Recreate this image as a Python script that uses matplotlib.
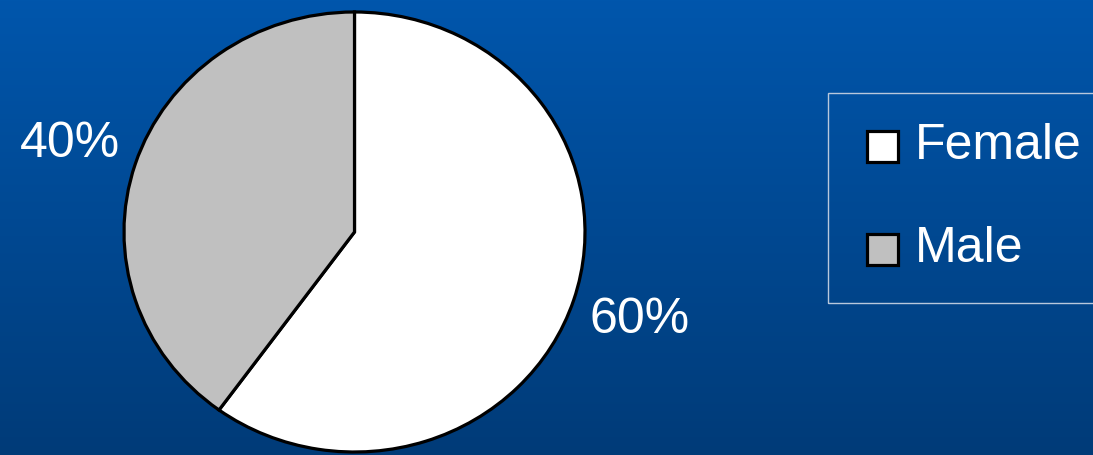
import numpy as np
import matplotlib
matplotlib.use("Agg")
import matplotlib.pyplot as plt
from matplotlib.patches import Rectangle

categories = ["Female", "Male"]
shares = [60, 40]
colors = ["#FFFFFF", "#C0C0C0"]

W, H = 1093, 455
fig = plt.figure(figsize=(W / 100, H / 100), dpi=100)

# gradient background
bg = fig.add_axes([0, 0, 1, 1], zorder=0)
grad = np.linspace(0, 1, 256).reshape(-1, 1)
top = np.array([0, 86, 172]) / 255
bot = np.array([0, 59, 120]) / 255
img = top[None, None, :] * (1 - grad[..., None]) + bot[None, None, :] * grad[..., None]
bg.imshow(img, aspect="auto", extent=[0, 1, 0, 1])
bg.set_axis_off()

def fx(px):
    return px / W

def fy(py):
    return 1 - py / H

# pie axes (slightly elliptical like the reference)
cx, cy, rx, ry = 354.5, 232, 230.5, 220
ax = fig.add_axes([fx(cx - rx), fy(cy + ry), 2 * rx / W, 2 * ry / H], zorder=1)
wedges, _, autotexts = ax.pie(
    shares, colors=colors, startangle=90, counterclock=False,
    autopct="%d%%", pctdistance=1.3,
    wedgeprops=dict(edgecolor="black", linewidth=2.3),
    textprops=dict(color="white", fontsize=36, family="Liberation Sans"),
)
ax.set_aspect("auto")
ax.set_xlim(-1, 1)
ax.set_ylim(-1, 1)
for w in wedges:
    w.set_clip_on(False)
for t in autotexts:
    t.set_clip_on(False)
ax.set_axis_off()

# legend
fig.patches.append(Rectangle((fx(828), fy(303)), fx(1100) - fx(828), fy(93) - fy(303),
                             transform=fig.transFigure, facecolor="none",
                             edgecolor="#B8C8DC", linewidth=1, zorder=2))
ys = [146, 249]
for cat, col, y in zip(categories, colors, ys):
    fig.patches.append(Rectangle((fx(867), fy(y + 15.5)), 31 / W, 31 / H,
                                 transform=fig.transFigure, facecolor=col,
                                 edgecolor="black", linewidth=2.3, zorder=3))
    fig.text(fx(915), fy(y), cat, color="white", fontsize=36,
             family="Liberation Sans", va="center", ha="left", zorder=3)

fig.savefig("out.png", dpi=100)
